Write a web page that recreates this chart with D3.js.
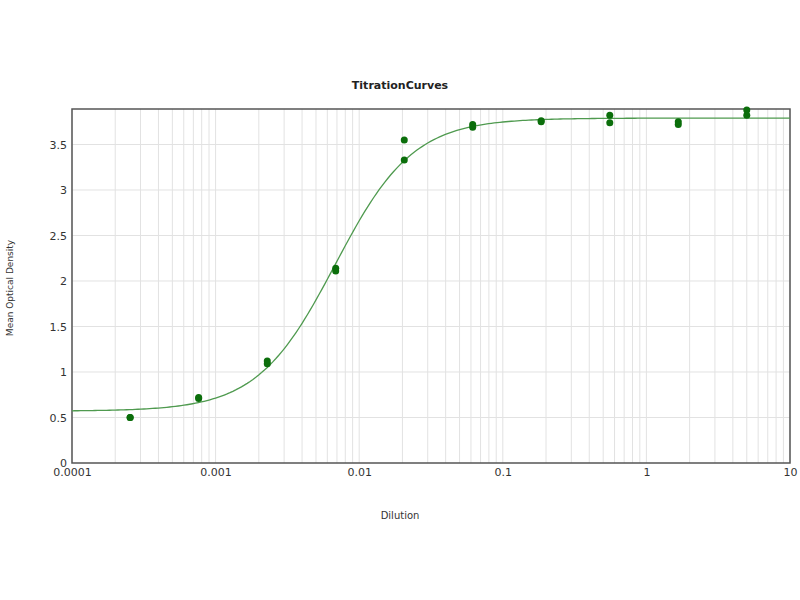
<!DOCTYPE html>
<html>
<head>
<meta charset="utf-8">
<script src="https://cdn.jsdelivr.net/npm/d3@7"></script>
<style>
  body { margin: 0; background: #fff; }
  text { font-family: "DejaVu Sans", sans-serif; }
</style>
</head>
<body>
<script>
'use strict'

var w = 800;
var h = 600;

// dilutions (3-fold series) and replicate OD readings
var dilutions = [0.000254, 0.000762, 0.00229, 0.00686, 0.0206, 0.0617, 0.185, 0.556, 1.667, 5];
var rep1 = [0.50, 0.71, 1.12, 2.14, 3.55, 3.72, 3.76, 3.82, 3.75, 3.88];
var rep2 = [0.50, 0.72, 1.09, 2.11, 3.33, 3.69, 3.75, 3.74, 3.72, 3.82];

// 4PL fit: bottom, top, EC50, hill slope
var fitParams = [0.57, 3.79, 0.0068, 1.6];

var xTicks = [0.0001, 0.001, 0.01, 0.1, 1, 10];
var yTicks = [0, 0.5, 1, 1.5, 2, 2.5, 3, 3.5];

var margin = {top: 109, right: 10, bottom: 137, left: 72};

var svg = d3.select("body")
  .append("svg")
  .attr("width", w)
  .attr("height", h);

var x = d3.scaleLog()
  .domain([0.0001, 10])
  .range([margin.left, w - margin.right]);

var y = d3.scaleLinear()
  .domain([0, 3.89])
  .range([h - margin.bottom, margin.top]);

//grid lines - every minor log tick
var minor = x.ticks();
svg.append("g")
  .selectAll("line")
  .data(minor)
  .enter()
  .append("line")
  .attr("x1", function(d) { return x(d); })
  .attr("x2", function(d) { return x(d); })
  .attr("y1", y(0))
  .attr("y2", margin.top)
  .style("stroke", "#e2e2e2")
  .style("stroke-width", 1);

svg.append("g")
  .selectAll("line")
  .data(yTicks.slice(1))
  .enter()
  .append("line")
  .attr("x1", margin.left)
  .attr("x2", w - margin.right)
  .attr("y1", function(d) { return y(d); })
  .attr("y2", function(d) { return y(d); })
  .style("stroke", "#e2e2e2")
  .style("stroke-width", 1);

//axes
var xAxis = d3.axisBottom(x)
  .tickValues(xTicks)
  .tickSize(0)
  .tickPadding(5)
  .tickFormat(function(d) { return String(+d.toPrecision(1)); });

var yAxis = d3.axisLeft(y)
  .tickValues(yTicks)
  .tickSize(0)
  .tickPadding(5)
  .tickFormat(function(d) { return String(d); });

var gx = svg.append("g")
  .attr("transform", "translate(0," + y(0) + ")")
  .call(xAxis);
gx.select(".domain").remove();
gx.selectAll("text")
  .style("font-size", "11px")
  .style("fill", "#333");

var gy = svg.append("g")
  .attr("transform", "translate(" + margin.left + ",0)")
  .call(yAxis);
gy.select(".domain").remove();
gy.selectAll("text")
  .style("font-size", "11px")
  .style("fill", "#333");

//plot frame
svg.append("rect")
  .attr("x", margin.left)
  .attr("y", margin.top)
  .attr("width", w - margin.right - margin.left)
  .attr("height", y(0) - margin.top)
  .style("fill", "none")
  .style("stroke", "#555")
  .style("stroke-width", 1.5);

//fitted curve
function fourPL(v) {
  var b = fitParams[0], t = fitParams[1], c = fitParams[2], s = fitParams[3];
  return b + (t - b) / (1 + Math.pow(c / v, s));
}
var curveX = d3.range(-4, 1.0001, 0.02).map(function(e) { return Math.pow(10, e); });
var line = d3.line()
  .x(function(d) { return x(d); })
  .y(function(d) { return y(fourPL(d)); });

svg.append("path")
  .datum(curveX)
  .attr("d", line)
  .style("fill", "none")
  .style("stroke", "#4f9a4f")
  .style("stroke-width", 1.3);

//points
var pts = [];
dilutions.forEach(function(d, i) {
  pts.push([d, rep1[i]]);
  pts.push([d, rep2[i]]);
});

svg.append("g")
  .selectAll("circle")
  .data(pts)
  .enter()
  .append("circle")
  .attr("cx", function(d) { return x(d[0]); })
  .attr("cy", function(d) { return y(d[1]); })
  .attr("r", 3.5)
  .style("fill", "#0b6e0b");

//labels
svg.append("text")
  .attr("x", 400)
  .attr("y", 89)
  .attr("text-anchor", "middle")
  .style("font-size", "11px")
  .style("font-weight", "bold")
  .style("fill", "#222")
  .text("TitrationCurves");

svg.append("text")
  .attr("x", 400)
  .attr("y", 519)
  .attr("text-anchor", "middle")
  .style("font-size", "10px")
  .style("fill", "#333")
  .text("Dilution");

svg.append("text")
  .attr("transform", "translate(13,288) rotate(-90)")
  .attr("text-anchor", "middle")
  .style("font-size", "9px")
  .style("fill", "#333")
  .text("Mean Optical Density");
</script>
</body>
</html>
